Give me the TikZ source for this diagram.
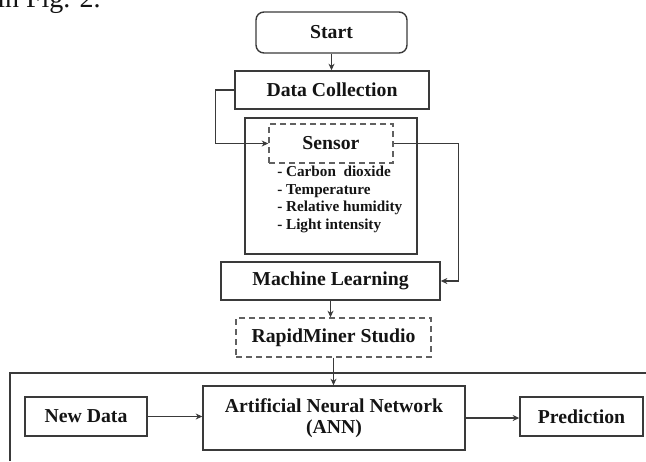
\documentclass[tikz,border=0pt]{standalone}
\usepackage{fontspec}
\setmainfont{Liberation Serif}
\usetikzlibrary{arrows.meta,calc}
\definecolor{lineg}{HTML}{3A3A3A}
\definecolor{txt}{HTML}{141414}
\tikzset{
  x=0.75pt, y=-0.75pt,
  box/.style={draw=lineg, line width=1.05pt, inner sep=0pt, text=txt,
    font=\fontsize{14.8}{16.2}\selectfont\bfseries, align=center},
  dbox/.style={box, draw=lineg!80, dashed, dash pattern=on 4.5pt off 3pt},
  arr/.style={draw=lineg, line width=1.05pt, -{Stealth[length=5pt,width=4.5pt]}},
  conn/.style={draw=lineg, line width=1.05pt},
}
\begin{document}
\begin{tikzpicture}
\useasboundingbox (0,0) rectangle (646,461);
\begin{scope}
\clip (0,0) rectangle (646,461);
\node[anchor=base west, inner sep=0pt, font=\fontsize{21}{24}\selectfont, text=txt] (figref) at (-3,7) {in Fig. 2.};
\end{scope}
\node[box, rounded corners=6pt, minimum width=151*0.75pt, minimum height=41*0.75pt] (start) at (331.5,32.5) {Start};
\node[box, minimum width=194*0.75pt, minimum height=38*0.75pt] (dc) at (332,90) {Data Collection};
\node[draw=lineg, line width=1.05pt, inner sep=0pt, minimum width=172*0.75pt, minimum height=136*0.75pt] (frame) at (331,186) {};
\node[dbox, minimum width=124*0.75pt, minimum height=39*0.75pt] (sensor) at (331,143.5) {Sensor};
\node[anchor=north west, inner sep=0pt, align=left, text=txt, font=\fontsize{11.4}{13.1}\selectfont\bfseries] (list) at (277,166)
 {- Carbon\ \ dioxide\\- Temperature\\- Relative humidity\\- Light intensity};
\node[box, minimum width=219*0.75pt, minimum height=38*0.75pt] (ml) at (330.5,281) {Machine Learning};
\node[dbox, minimum width=195*0.75pt, minimum height=39*0.75pt] (rm) at (333.5,337.5) {RapidMiner Studio};
\node[box, minimum width=262*0.75pt, minimum height=64*0.75pt] (ann) at (334,418) {Artificial Neural Network\\(ANN)};
\node[box, minimum width=122*0.75pt, minimum height=39*0.75pt] (nd) at (86,416.5) {New Data};
\node[box, minimum width=123*0.75pt, minimum height=39*0.75pt] (pred) at (581.5,416.5) {Prediction};
\coordinate (fbl) at (10,461);
\coordinate (ftl) at (10,373);
\coordinate (ftr) at (646,373);
\draw[conn] (fbl) -- (ftl) -- (ftr);
\draw[arr] (start.south) -- (start.south |- dc.north);
\draw[arr] (dc.west) -- ++(-19,0) |- (sensor.west);
\draw[arr] (sensor.east) -- ++(65,0) |- (ml.east);
\draw[arr] (ml.south) -- (ml.south |- rm.north);
\draw[arr] (rm.south) -- (rm.south |- ann.north);
\draw[arr] (nd.east) -- (nd.east -| ann.west);
\draw[arr] (ann.east) -- (ann.east -| pred.west);
\end{tikzpicture}
\end{document}
